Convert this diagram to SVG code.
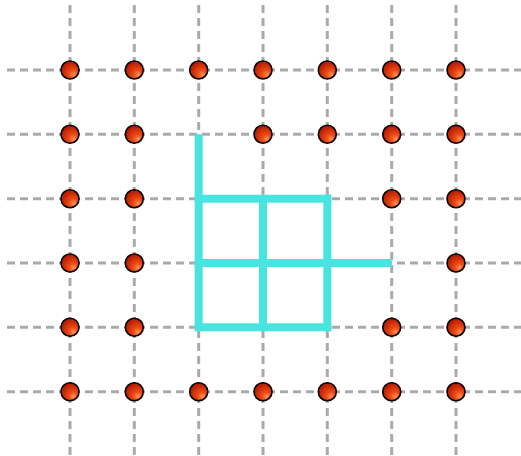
<svg xmlns="http://www.w3.org/2000/svg" width="521" height="456" viewBox="0 0 521 456">
<defs>
<radialGradient id="ball" cx="0.65" cy="0.7" r="0.7" fx="0.72" fy="0.78">
<stop offset="0" stop-color="#ff9560"/>
<stop offset="0.35" stop-color="#ee4a14"/>
<stop offset="1" stop-color="#b01800"/>
</radialGradient>
<style>
.g{stroke:#aaaaaa;stroke-width:3;stroke-dasharray:8 5;fill:none}
.c{stroke:#48e5e0;stroke-width:8;fill:none;stroke-linecap:butt}
.d{fill:url(#ball);stroke:#000;stroke-width:1.6}
</style>
</defs>
<g id="grid">
<line class="g" x1="70" y1="5" x2="70" y2="456"/>
<line class="g" x1="134.3" y1="5" x2="134.3" y2="456"/>
<line class="g" x1="198.7" y1="5" x2="198.7" y2="456"/>
<line class="g" x1="263" y1="5" x2="263" y2="456"/>
<line class="g" x1="327.3" y1="5" x2="327.3" y2="456"/>
<line class="g" x1="391.7" y1="5" x2="391.7" y2="456"/>
<line class="g" x1="456" y1="5" x2="456" y2="456"/>
<line class="g" x1="7" y1="70" x2="521" y2="70"/>
<line class="g" x1="7" y1="134.3" x2="521" y2="134.3"/>
<line class="g" x1="7" y1="198.7" x2="521" y2="198.7"/>
<line class="g" x1="7" y1="263" x2="521" y2="263"/>
<line class="g" x1="7" y1="327.3" x2="521" y2="327.3"/>
<line class="g" x1="7" y1="391.7" x2="521" y2="391.7"/>
</g>
<g id="connectors">
<path class="c" d="M198.7 134.3 V331.3"/>
<path class="c" d="M194.7 198.7 H331.3"/>
<path class="c" d="M194.7 263 H391.7"/>
<path class="c" d="M194.7 327.3 H331.3"/>
<path class="c" d="M263 198.7 V331.3"/>
<path class="c" d="M327.3 194.7 V331.3"/>
</g>
<g id="dots">
<g id="r1">
<circle class="d" cx="70" cy="70" r="9"/><circle class="d" cx="134.3" cy="70" r="9"/><circle class="d" cx="198.7" cy="70" r="9"/><circle class="d" cx="263" cy="70" r="9"/><circle class="d" cx="327.3" cy="70" r="9"/><circle class="d" cx="391.7" cy="70" r="9"/><circle class="d" cx="456" cy="70" r="9"/>
</g>
<g id="r2">
<circle class="d" cx="70" cy="134.3" r="9"/><circle class="d" cx="134.3" cy="134.3" r="9"/><circle class="d" cx="263" cy="134.3" r="9"/><circle class="d" cx="327.3" cy="134.3" r="9"/><circle class="d" cx="391.7" cy="134.3" r="9"/><circle class="d" cx="456" cy="134.3" r="9"/>
</g>
<g id="r3">
<circle class="d" cx="70" cy="198.7" r="9"/><circle class="d" cx="134.3" cy="198.7" r="9"/><circle class="d" cx="391.7" cy="198.7" r="9"/><circle class="d" cx="456" cy="198.7" r="9"/>
</g>
<g id="r4">
<circle class="d" cx="70" cy="263" r="9"/><circle class="d" cx="134.3" cy="263" r="9"/><circle class="d" cx="456" cy="263" r="9"/>
</g>
<g id="r5">
<circle class="d" cx="70" cy="327.3" r="9"/><circle class="d" cx="134.3" cy="327.3" r="9"/><circle class="d" cx="391.7" cy="327.3" r="9"/><circle class="d" cx="456" cy="327.3" r="9"/>
</g>
<g id="r6">
<circle class="d" cx="70" cy="391.7" r="9"/><circle class="d" cx="134.3" cy="391.7" r="9"/><circle class="d" cx="198.7" cy="391.7" r="9"/><circle class="d" cx="263" cy="391.7" r="9"/><circle class="d" cx="327.3" cy="391.7" r="9"/><circle class="d" cx="391.7" cy="391.7" r="9"/><circle class="d" cx="456" cy="391.7" r="9"/>
</g>
</g>
</svg>
